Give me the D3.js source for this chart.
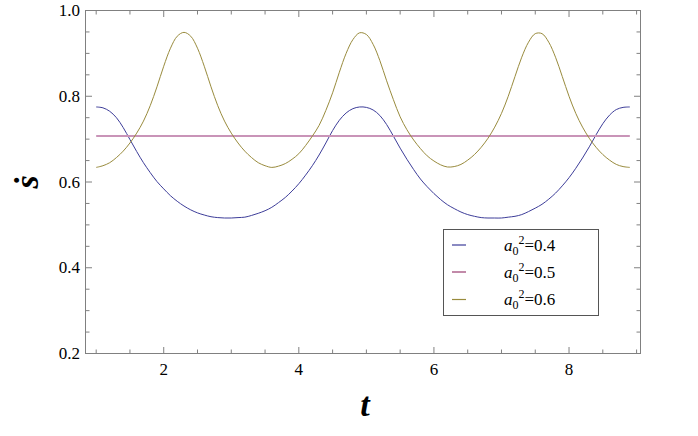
<!DOCTYPE html>
<html>
<head>
<meta charset="utf-8">
<script src="https://cdn.jsdelivr.net/npm/d3@7"></script>
<style>
  body { margin: 0; background: #fff; }
  svg { display: block; }
  text { font-family: "Liberation Serif", "Times New Roman", Times, serif; }
</style>
</head>
<body>
<div id="chart"></div>
<script>
var width = 698;
var height = 436;

// sample times
var tValues = [1.0,1.1,1.2,1.3,1.4,1.5,1.6,1.7,1.8,1.9,
               2.0,2.1,2.2,2.3,2.4,2.5,2.6,2.7,2.8,2.9,
               3.0,3.1,3.2,3.3,3.4,3.5,3.6,3.7,3.8,3.9,
               4.0,4.1,4.2,4.3,4.4,4.5,4.6,4.7,4.8,4.9,
               5.0,5.1,5.2,5.3,5.4,5.5,5.6,5.7,5.8,5.9,
               6.0,6.1,6.2,6.3,6.4,6.5,6.6,6.7,6.8,6.9,
               7.0,7.1,7.2,7.3,7.4,7.5,7.6,7.7,7.8,7.9,
               8.0,8.1,8.2,8.3,8.4,8.5,8.6,8.7,8.8,8.9];

// a0^2 = 0.4
var series04 = [0.775,0.773,0.765,0.750,0.727,0.699,0.671,0.645,0.622,0.601,
                0.584,0.568,0.555,0.544,0.535,0.528,0.523,0.519,0.517,0.516,
                0.516,0.517,0.518,0.522,0.527,0.533,0.541,0.552,0.564,0.579,
                0.596,0.616,0.638,0.663,0.691,0.720,0.744,0.761,0.771,0.775,
                0.774,0.768,0.755,0.734,0.707,0.679,0.653,0.629,0.607,0.589,
                0.573,0.559,0.547,0.538,0.530,0.524,0.520,0.517,0.516,0.516,
                0.516,0.518,0.520,0.524,0.531,0.539,0.548,0.560,0.574,0.591,
                0.610,0.632,0.656,0.682,0.710,0.736,0.756,0.769,0.774,0.775];

// a0^2 = 0.5 (flat)
var t05 = [1.0, 8.9];
var series05 = [0.707, 0.707];

// a0^2 = 0.6
var series06 = [0.634,0.638,0.645,0.657,0.672,0.691,0.714,0.742,0.778,0.822,
                0.870,0.912,0.940,0.949,0.940,0.912,0.870,0.822,0.778,0.742,
                0.714,0.691,0.672,0.657,0.645,0.638,0.634,0.637,0.643,0.653,
                0.666,0.685,0.707,0.732,0.767,0.808,0.856,0.900,0.932,0.948,
                0.944,0.921,0.883,0.836,0.792,0.752,0.722,0.698,0.678,0.661,
                0.649,0.640,0.635,0.636,0.641,0.651,0.664,0.681,0.702,0.728,
                0.760,0.800,0.846,0.891,0.926,0.946,0.946,0.926,0.891,0.846,
                0.800,0.760,0.728,0.702,0.681,0.664,0.651,0.641,0.636,0.634];

var legendLabels = ["0.4", "0.5", "0.6"];
var lineColors = ["#3d3d99", "#c994b8", "#998b3d"];
var legendColors = ["#3d3d99", "#993d71", "#998b3d"];

var xMajor = [2, 4, 6, 8];
var yMajor = [0.2, 0.4, 0.6, 0.8, 1.0];

(function(){
    var pLeft = 85.5, pRight = 640.5, pTop = 10.5, pBottom = 353.5;

    var x = d3.scaleLinear().domain([0.842, 9.058]).range([pLeft, pRight]);
    var y = d3.scaleLinear().domain([0.2, 1.0]).range([pBottom, pTop]);

    var svg = d3.select("#chart")
        .append("svg")
        .attr("width", width)
        .attr("height", height);

    var xMinor = d3.range(1, 9.01, 0.5).filter(function(d){ return xMajor.indexOf(d) < 0; });
    var yMinor = d3.range(0.2, 1.001, 0.05).map(function(d){ return +d.toFixed(2); })
        .filter(function(d){ return yMajor.indexOf(d) < 0; });

    var axisColor = "#808080";

    function tickLines(g, vals, len, dir) {
        vals.forEach(function(v){
            if (dir === "bottom") g.append("line").attr("x1", x(v)).attr("x2", x(v)).attr("y1", pBottom).attr("y2", pBottom - len);
            if (dir === "top") g.append("line").attr("x1", x(v)).attr("x2", x(v)).attr("y1", pTop).attr("y2", pTop + len);
            if (dir === "left") g.append("line").attr("x1", pLeft).attr("x2", pLeft + len).attr("y1", y(v)).attr("y2", y(v));
            if (dir === "right") g.append("line").attr("x1", pRight).attr("x2", pRight - len).attr("y1", y(v)).attr("y2", y(v));
        });
    }

    var frame = svg.append("g").attr("stroke", axisColor).attr("stroke-width", 1).attr("fill", "none");
    frame.append("rect")
        .attr("x", pLeft).attr("y", pTop)
        .attr("width", pRight - pLeft).attr("height", pBottom - pTop);
    tickLines(frame, xMajor, 6.5, "bottom");
    tickLines(frame, xMinor, 4, "bottom");
    tickLines(frame, xMajor, 6.5, "top");
    tickLines(frame, xMinor, 4, "top");
    tickLines(frame, yMajor, 6.5, "left");
    tickLines(frame, yMinor, 4, "left");
    tickLines(frame, yMajor, 6.5, "right");
    tickLines(frame, yMinor, 4, "right");

    svg.selectAll("text.xtick")
        .data(xMajor)
        .enter()
        .append("text")
        .attr("class", "xtick")
        .attr("x", function(d){ return x(d); })
        .attr("y", 375)
        .attr("text-anchor", "middle")
        .style("font-size", "17px")
        .text(function(d){ return d; });

    svg.selectAll("text.ytick")
        .data(yMajor)
        .enter()
        .append("text")
        .attr("class", "ytick")
        .attr("x", 80)
        .attr("y", function(d){ return y(d) + 5.5; })
        .attr("text-anchor", "end")
        .style("font-size", "17px")
        .text(function(d){ return d.toFixed(1); });

    // axis labels
    svg.append("text")
        .attr("x", 365)
        .attr("y", 416)
        .attr("text-anchor", "middle")
        .style("font-style", "italic")
        .style("font-weight", "bold")
        .style("font-size", "34px")
        .text("t");

    svg.append("text")
        .attr("transform", "translate(38,182) rotate(-90)")
        .attr("text-anchor", "middle")
        .style("font-style", "italic")
        .style("font-weight", "bold")
        .style("font-size", "34px")
        .text("\u1E61");

    // curves
    var line = d3.line()
        .x(function(d){ return x(d[0]); })
        .y(function(d){ return y(d[1]); })
        .curve(d3.curveCatmullRom);

    var plot = svg.append("g");

    plot.append("path")
        .datum(tValues.map(function(t, i){ return [t, series04[i]]; }))
        .attr("d", line)
        .attr("fill", "none")
        .attr("stroke", lineColors[0])
        .attr("stroke-width", 1);

    plot.append("path")
        .datum(t05.map(function(t, i){ return [t, series05[i]]; }))
        .attr("d", line)
        .attr("fill", "none")
        .attr("stroke", lineColors[1])
        .attr("stroke-width", 2);

    plot.append("path")
        .datum(tValues.map(function(t, i){ return [t, series06[i]]; }))
        .attr("d", line)
        .attr("fill", "none")
        .attr("stroke", lineColors[2])
        .attr("stroke-width", 1);

    // legend
    var legend = svg.append("g");
    legend.append("rect")
        .attr("x", 443.5).attr("y", 229.5)
        .attr("width", 155).attr("height", 86)
        .attr("fill", "#fff")
        .attr("stroke", "#555")
        .attr("stroke-width", 1);

    var rowY = [245, 272, 299.5];
    legendLabels.forEach(function(lab, i){
        legend.append("line")
            .attr("x1", 452).attr("x2", 466)
            .attr("y1", rowY[i]).attr("y2", rowY[i])
            .attr("stroke", legendColors[i])
            .attr("stroke-width", 1.2);
        var tx = legend.append("text")
            .attr("x", 504)
            .attr("y", rowY[i] + 5.5)
            .style("font-size", "17px");
        tx.append("tspan").style("font-style", "italic").text("a");
        tx.append("tspan").attr("dy", 4).style("font-size", "12px").text("0");
        tx.append("tspan").attr("dy", -11).style("font-size", "12px").text("2");
        tx.append("tspan").attr("dy", 7).text("=" + lab);
    });
})();
</script>
</body>
</html>
